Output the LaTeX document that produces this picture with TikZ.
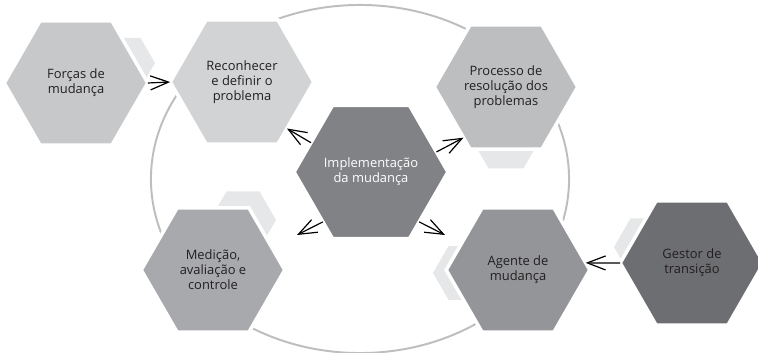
\documentclass[tikz,border=0pt]{standalone}
\usepackage{fontspec}
\setmainfont{Open Sans}
\usetikzlibrary{shapes.geometric,arrows.meta}
\definecolor{hexlight}{HTML}{D1D3D4}
\definecolor{hexforce}{HTML}{C7C8CA}
\definecolor{hexmid}{HTML}{BCBEC0}
\definecolor{hexdark}{HTML}{808285}
\definecolor{hexmeas}{HTML}{A7A9AC}
\definecolor{hexagent}{HTML}{939598}
\definecolor{hexgestor}{HTML}{6D6E71}
\definecolor{ghostgray}{HTML}{E6E7E8}
\definecolor{ringgray}{HTML}{BCBEC0}
\definecolor{txtgray}{HTML}{231F20}

\begin{document}
\begin{tikzpicture}[x=0.025cm, y=-0.025cm,
  hex/.style = {regular polygon, regular polygon sides=6, minimum size=3.5cm+2.5pt,
    inner sep=0pt, outer sep=0pt, draw=white, line width=2.5pt, align=center,
    text=txtgray, font=\fontsize{9.2}{10.7}\selectfont},
  ghost/.style = {regular polygon, regular polygon sides=6, inner sep=0pt, fill=ghostgray},
  arr/.style = {-{Straight Barb[length=13pt, width=10pt]}, line width=0.85pt}]
\clip (0,0) rectangle (758,353);
\draw[ringgray, line width=1.4pt] (360,179) ellipse [x radius=5.225cm, y radius=4.35cm];

\node[ghost, minimum size=1.45cm] (ghostF) at (126,63) {};
\node[ghost, minimum size=1.75cm] (ghostP) at (506,138) {};
\node[ghost, minimum size=1.65cm] (ghostM) at (243,220) {};
\node[ghost, minimum size=1.55cm] (ghostA) at (464,273) {};
\node[ghost, minimum size=1.65cm] (ghostG) at (647,247) {};

\node[hex, fill=hexforce] (forcas) at (76,83) {Forças de\\mudança};
\node[hex, fill=hexlight] (reconhecer) at (242,82) {Reconhecer\\e definir o\\problema};
\node[hex, fill=hexmid] (processo) at (506,87) {Processo de\\resolução dos\\problemas};
\node[hex, fill=hexdark, text=white] (implem) at (371,172) {Implementação\\da mudança};
\node[hex, fill=hexmeas] (medicao) at (213,270) {Medição,\\avaliação e\\controle};
\node[hex, fill=hexagent] (agente) at (518,270) {Agente de\\mudança};
\node[hex, fill=hexgestor] (gestor) at (692,263) {Gestor de\\transição};

\coordinate (medTip) at (297,235);
\coordinate (agTip) at (445,235);

\draw[arr] (forcas.east) -- (reconhecer.west);
\draw[arr] (implem.154) -- (reconhecer.-46);
\draw[arr] (implem.17) -- (processo.-130);
\draw[arr] (implem.226) -- (medTip);
\draw[arr] (implem.-46) -- (agTip);
\draw[arr] (gestor.west) -- (agente.6);
\end{tikzpicture}
\end{document}
